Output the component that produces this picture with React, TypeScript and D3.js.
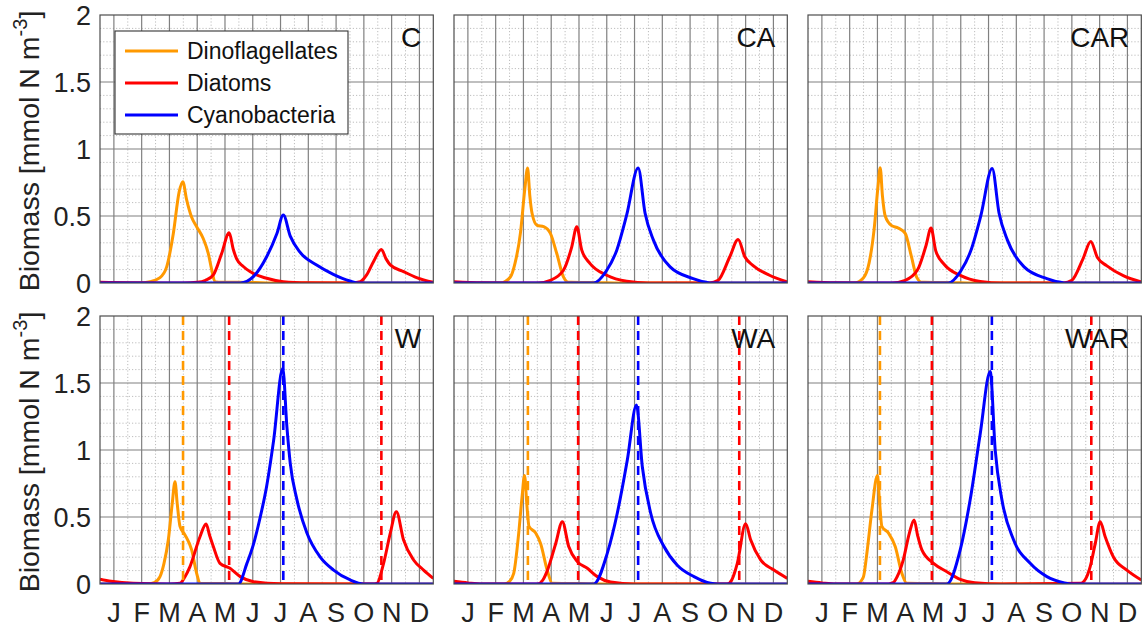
import React from "react";
import * as d3 from "d3";

// ---------- data ----------
const MONTH_LABELS = ["J", "F", "M", "A", "M", "J", "J", "A", "S", "O", "N", "D"];
const Y_TICKS = [0, 0.5, 1, 1.5, 2];
const PANEL_NAMES = ["C", "CA", "CAR", "W", "WA", "WAR"];
const SERIES_NAMES = ["Dinoflagellates", "Diatoms", "Cyanobacteria"];
const Y_LABEL = "Biomass [mmol N m";

// x = month position (0 = 1 Jan, 12 = 31 Dec), y = biomass
const dinoC = [[0,0],[1.4,0],[1.8,0.01],[2.16,0.04],[2.4,0.12],[2.64,0.37],[2.85,0.68],[2.98,0.756],[3.12,0.62],[3.3,0.49],[3.48,0.42],[3.72,0.33],[3.9,0.22],[4.02,0.1],[4.14,0.01],[4.4,0.006],[5.0,0.006],[5.6,0.003],[6.2,0],[12,0]];
const diatC = [[0,0.005],[1,0.002],[3.0,0],[3.5,0.005],[3.8,0.02],[4.08,0.06],[4.38,0.22],[4.65,0.375],[4.8,0.25],[4.92,0.18],[5.15,0.125],[5.4,0.085],[6.0,0.035],[6.6,0.01],[7.5,0.002],[9.0,0],[9.37,0.01],[9.6,0.06],[9.85,0.16],[10.13,0.25],[10.3,0.18],[10.45,0.135],[10.93,0.085],[11.4,0.04],[12,0.005]];
const cyanoC = [[0,0],[5.05,0],[5.52,0.047],[6.0,0.196],[6.37,0.37],[6.6,0.507],[6.85,0.35],[7.2,0.23],[7.8,0.134],[8.4,0.065],[9.0,0.015],[9.3,0],[12,0]];

const dinoCA = [[0,0],[1.67,0],[2.03,0.045],[2.2,0.15],[2.39,0.37],[2.55,0.7],[2.65,0.858],[2.73,0.65],[2.81,0.52],[2.99,0.43],[3.23,0.42],[3.47,0.37],[3.7,0.22],[3.94,0.045],[4.12,0.005],[5,0.004],[6,0],[12,0]];
const diatCA = [[0,0.01],[1,0.002],[3.0,0],[3.47,0.02],[3.94,0.095],[4.24,0.27],[4.42,0.42],[4.6,0.245],[4.9,0.145],[5.5,0.058],[6.22,0.013],[7,0],[9.2,0],[9.51,0.02],[9.93,0.196],[10.23,0.325],[10.47,0.196],[10.77,0.13],[11.36,0.058],[12,0.008]];
const cyanoCA = [[0,0],[5.02,0],[5.5,0.095],[5.86,0.245],[6.22,0.51],[6.63,0.858],[6.88,0.52],[7.18,0.32],[7.78,0.12],[8.61,0.033],[9.09,0.005],[9.3,0],[12,0]];

const dinoCAR = [[0,0],[1.65,0],[2.0,0.04],[2.2,0.15],[2.38,0.4],[2.52,0.72],[2.6,0.86],[2.68,0.65],[2.78,0.5],[3.0,0.43],[3.25,0.41],[3.5,0.37],[3.72,0.2],[3.92,0.04],[4.1,0.005],[5,0.004],[6,0],[12,0]];
const diatCAR = [[0,0.01],[1,0.002],[3.0,0],[3.5,0.02],[3.95,0.1],[4.25,0.28],[4.43,0.41],[4.6,0.24],[4.9,0.14],[5.5,0.055],[6.2,0.012],[7,0],[9.2,0],[9.5,0.02],[9.9,0.18],[10.18,0.31],[10.42,0.19],[10.75,0.13],[11.35,0.055],[12,0.008]];
const cyanoCAR = [[0,0],[5.05,0],[5.5,0.09],[5.86,0.24],[6.22,0.5],[6.63,0.855],[6.88,0.52],[7.18,0.32],[7.78,0.12],[8.6,0.033],[9.1,0.005],[9.3,0],[12,0]];

const dinoW = [[0,0],[1.68,0],[1.95,0.01],[2.16,0.055],[2.3,0.15],[2.46,0.33],[2.6,0.6],[2.7,0.763],[2.78,0.6],[2.88,0.43],[3.06,0.366],[3.3,0.254],[3.48,0.08],[3.6,0.005],[4.5,0.004],[5.4,0],[12,0]];
const diatW = [[0,0.035],[0.4,0.02],[1.2,0.005],[2.5,0],[2.88,0.005],[3.05,0.05],[3.24,0.13],[3.6,0.353],[3.82,0.448],[3.95,0.36],[4.08,0.28],[4.32,0.154],[4.68,0.117],[5.05,0.055],[5.53,0.017],[6.5,0.002],[9.8,0],[9.97,0.005],[10.21,0.154],[10.45,0.378],[10.67,0.54],[10.93,0.328],[11.29,0.179],[11.65,0.104],[12,0.042]];
const cyanoW = [[0,0],[4.98,0],[5.29,0.154],[5.53,0.3],[5.77,0.5],[6.0,0.73],[6.25,1.07],[6.58,1.61],[6.73,1.17],[6.85,0.9],[7.09,0.63],[7.45,0.38],[7.93,0.2],[8.41,0.104],[9.01,0.03],[9.5,0],[12,0]];

const dinoWA = [[0,0],[1.8,0],[2.0,0.02],[2.15,0.08],[2.33,0.38],[2.45,0.65],[2.54,0.81],[2.62,0.6],[2.7,0.43],[2.94,0.38],[3.12,0.3],[3.36,0.1],[3.54,0.005],[4.5,0.004],[5.6,0],[12,0]];
const diatWA = [[0,0.02],[0.5,0.008],[1,0],[3.0,0],[3.2,0.03],[3.36,0.1],[3.66,0.3],[3.9,0.465],[4.13,0.28],[4.44,0.167],[4.8,0.117],[5.16,0.055],[5.64,0.015],[6.5,0],[9.84,0],[10.0,0.03],[10.2,0.154],[10.5,0.45],[10.68,0.33],[11.04,0.18],[11.52,0.104],[12,0.042]];
const cyanoWA = [[0,0],[5.03,0],[5.52,0.23],[5.88,0.53],[6.24,0.925],[6.57,1.336],[6.78,0.875],[7.08,0.53],[7.56,0.28],[8.04,0.14],[8.64,0.055],[9.24,0.005],[9.5,0],[12,0]];

const dinoWAR = [[0,0],[1.75,0],[1.99,0.05],[2.12,0.23],[2.3,0.55],[2.5,0.81],[2.58,0.6],[2.66,0.43],[2.9,0.38],[3.14,0.28],[3.38,0.08],[3.56,0.005],[4.5,0.004],[5.5,0],[12,0]];
const diatWAR = [[0,0.02],[0.5,0.008],[1,0],[2.9,0],[3.07,0.01],[3.2,0.05],[3.43,0.18],[3.65,0.38],[3.82,0.478],[3.95,0.36],[4.1,0.254],[4.52,0.154],[5.0,0.092],[5.48,0.035],[6.0,0.01],[7,0],[9.8,0.005],[10.0,0.04],[10.16,0.13],[10.34,0.3],[10.52,0.465],[10.7,0.353],[11.0,0.2],[11.48,0.104],[12,0.03]];
const cyanoWAR = [[0,0],[5.0,0],[5.48,0.254],[5.84,0.63],[6.2,1.12],[6.56,1.585],[6.74,1.0],[6.98,0.63],[7.4,0.33],[8.0,0.154],[8.6,0.055],[9.2,0.01],[9.5,0],[12,0]];

// dashed markers: [series index, month position] (peak times of the reference runs)
const markersW = [[0, 2.99], [1, 4.65], [2, 6.6], [1, 10.13]];
const markersWA = [[0, 2.66], [1, 4.47], [2, 6.63], [1, 10.27]];
const markersWAR = [[0, 2.59], [1, 4.46], [2, 6.62], [1, 10.2]];

const PANEL_SERIES = [
  [dinoC, diatC, cyanoC],
  [dinoCA, diatCA, cyanoCA],
  [dinoCAR, diatCAR, cyanoCAR],
  [dinoW, diatW, cyanoW],
  [dinoWA, diatWA, cyanoWA],
  [dinoWAR, diatWAR, cyanoWAR],
];
const PANEL_MARKERS = [[], [], [], markersW, markersWA, markersWAR];

// ---------- style / layout ----------
const COLORS = ["#FF9900", "#FF0000", "#0000FF"];
const FONT = "'Liberation Sans', Arial, Helvetica, sans-serif";
const COL_X = [100, 454, 808];
const ROW_Y = [15, 316];
const PW = 333.3;
const PH = 268;

function Panel({ idx }: { idx: number }) {
  const col = idx % 3;
  const row = Math.floor(idx / 3);
  const x0 = COL_X[col];
  const y0 = ROW_Y[row];
  const x = d3.scaleLinear().domain([0, 12]).range([x0, x0 + PW]);
  const y = d3.scaleLinear().domain([0, 2]).range([y0 + PH, y0]);
  const line = d3
    .line<number[]>()
    .x((d) => x(d[0]))
    .y((d) => y(d[1]))
    .curve(d3.curveMonotoneX);

  const minorY = d3.range(1, 20).filter((i) => i % 5 !== 0).map((i) => i / 10);
  const majorY = Y_TICKS.filter((v) => v > 0 && v < 2);
  const minorX = d3.range(1, 12);
  const majorX = MONTH_LABELS.map((_, i) => i + 0.5);
  const clipId = `clip${idx}`;

  return (
    <g>
      <defs>
        <clipPath id={clipId}>
          <rect x={x0} y={y0} width={PW} height={PH} />
        </clipPath>
      </defs>
      <rect x={x0} y={y0} width={PW} height={PH} fill="#fff" />
      {minorY.map((v) => (
        <line key={"my" + v} x1={x0} x2={x0 + PW} y1={y(v)} y2={y(v)} stroke="#bdbdbd" strokeWidth={1} strokeDasharray="1.2,2" />
      ))}
      {minorX.map((v) => (
        <line key={"mx" + v} x1={x(v)} x2={x(v)} y1={y0} y2={y0 + PH} stroke="#bdbdbd" strokeWidth={1} strokeDasharray="1.2,2" />
      ))}
      {majorY.map((v) => (
        <line key={"Y" + v} x1={x0} x2={x0 + PW} y1={y(v)} y2={y(v)} stroke="#808080" strokeWidth={1.2} />
      ))}
      {majorX.map((v) => (
        <line key={"X" + v} x1={x(v)} x2={x(v)} y1={y0} y2={y0 + PH} stroke="#808080" strokeWidth={1.2} />
      ))}
      <g clipPath={`url(#${clipId})`}>
        {PANEL_SERIES[idx].map((s, si) => (
          <path key={"s" + si} d={line(s as number[][]) || ""} fill="none" stroke={COLORS[si]} strokeWidth={3} strokeLinejoin="round" />
        ))}
        {PANEL_MARKERS[idx].map((m, mi) => (
          <line key={"m" + mi} x1={x(m[1])} x2={x(m[1])} y1={y0} y2={y0 + PH} stroke={COLORS[m[0]]} strokeWidth={2.6} strokeDasharray="9,6" />
        ))}
      </g>
      <rect x={x0} y={y0} width={PW} height={PH} fill="none" stroke="#4d4d4d" strokeWidth={1.2} />
      <text x={x0 + PW - 12} y={y0 + 32} textAnchor="end" fontFamily={FONT} fontSize={28} fill="#111">
        {PANEL_NAMES[idx]}
      </text>
      {col === 0 &&
        Y_TICKS.map((v) => (
          <text key={"yt" + v} x={x0 - 9} y={y(v)} dy="0.36em" textAnchor="end" fontFamily={FONT} fontSize={27} fill="#222">
            {v}
          </text>
        ))}
      {row === 1 &&
        MONTH_LABELS.map((m, i) => (
          <text key={"xt" + i} x={x(i + 0.5)} y={622} textAnchor="middle" fontFamily={FONT} fontSize={27} fill="#222">
            {m}
          </text>
        ))}
      {col === 0 && (
        <text
          transform={`translate(39,${y0 + PH / 2 + 2}) rotate(-90)`}
          textAnchor="middle"
          fontFamily={FONT}
          fontSize={28.5}
          fill="#222"
        >
          {Y_LABEL}
          <tspan fontSize={20} dy={-12}>-3</tspan>
          <tspan dy={12}>]</tspan>
        </text>
      )}
    </g>
  );
}

function Legend() {
  const lx = 115;
  const ly = 31;
  const rows = [51, 83, 115];
  return (
    <g>
      <rect x={lx} y={ly} width={233} height={103} fill="#fff" stroke="#333" strokeWidth={1.1} />
      {SERIES_NAMES.map((n, i) => (
        <g key={n}>
          <line x1={125} x2={178} y1={rows[i]} y2={rows[i]} stroke={COLORS[i]} strokeWidth={3} />
          <text x={187} y={rows[i]} dy="0.36em" fontFamily={FONT} fontSize={23} fill="#111">
            {n}
          </text>
        </g>
      ))}
    </g>
  );
}

export default function App() {
  return (
    <svg width={1142} height={627} style={{ position: "absolute", left: 0, top: 0, background: "#fff" }}>
      {PANEL_NAMES.map((_, i) => (
        <Panel key={i} idx={i} />
      ))}
      <Legend />
    </svg>
  );
}
